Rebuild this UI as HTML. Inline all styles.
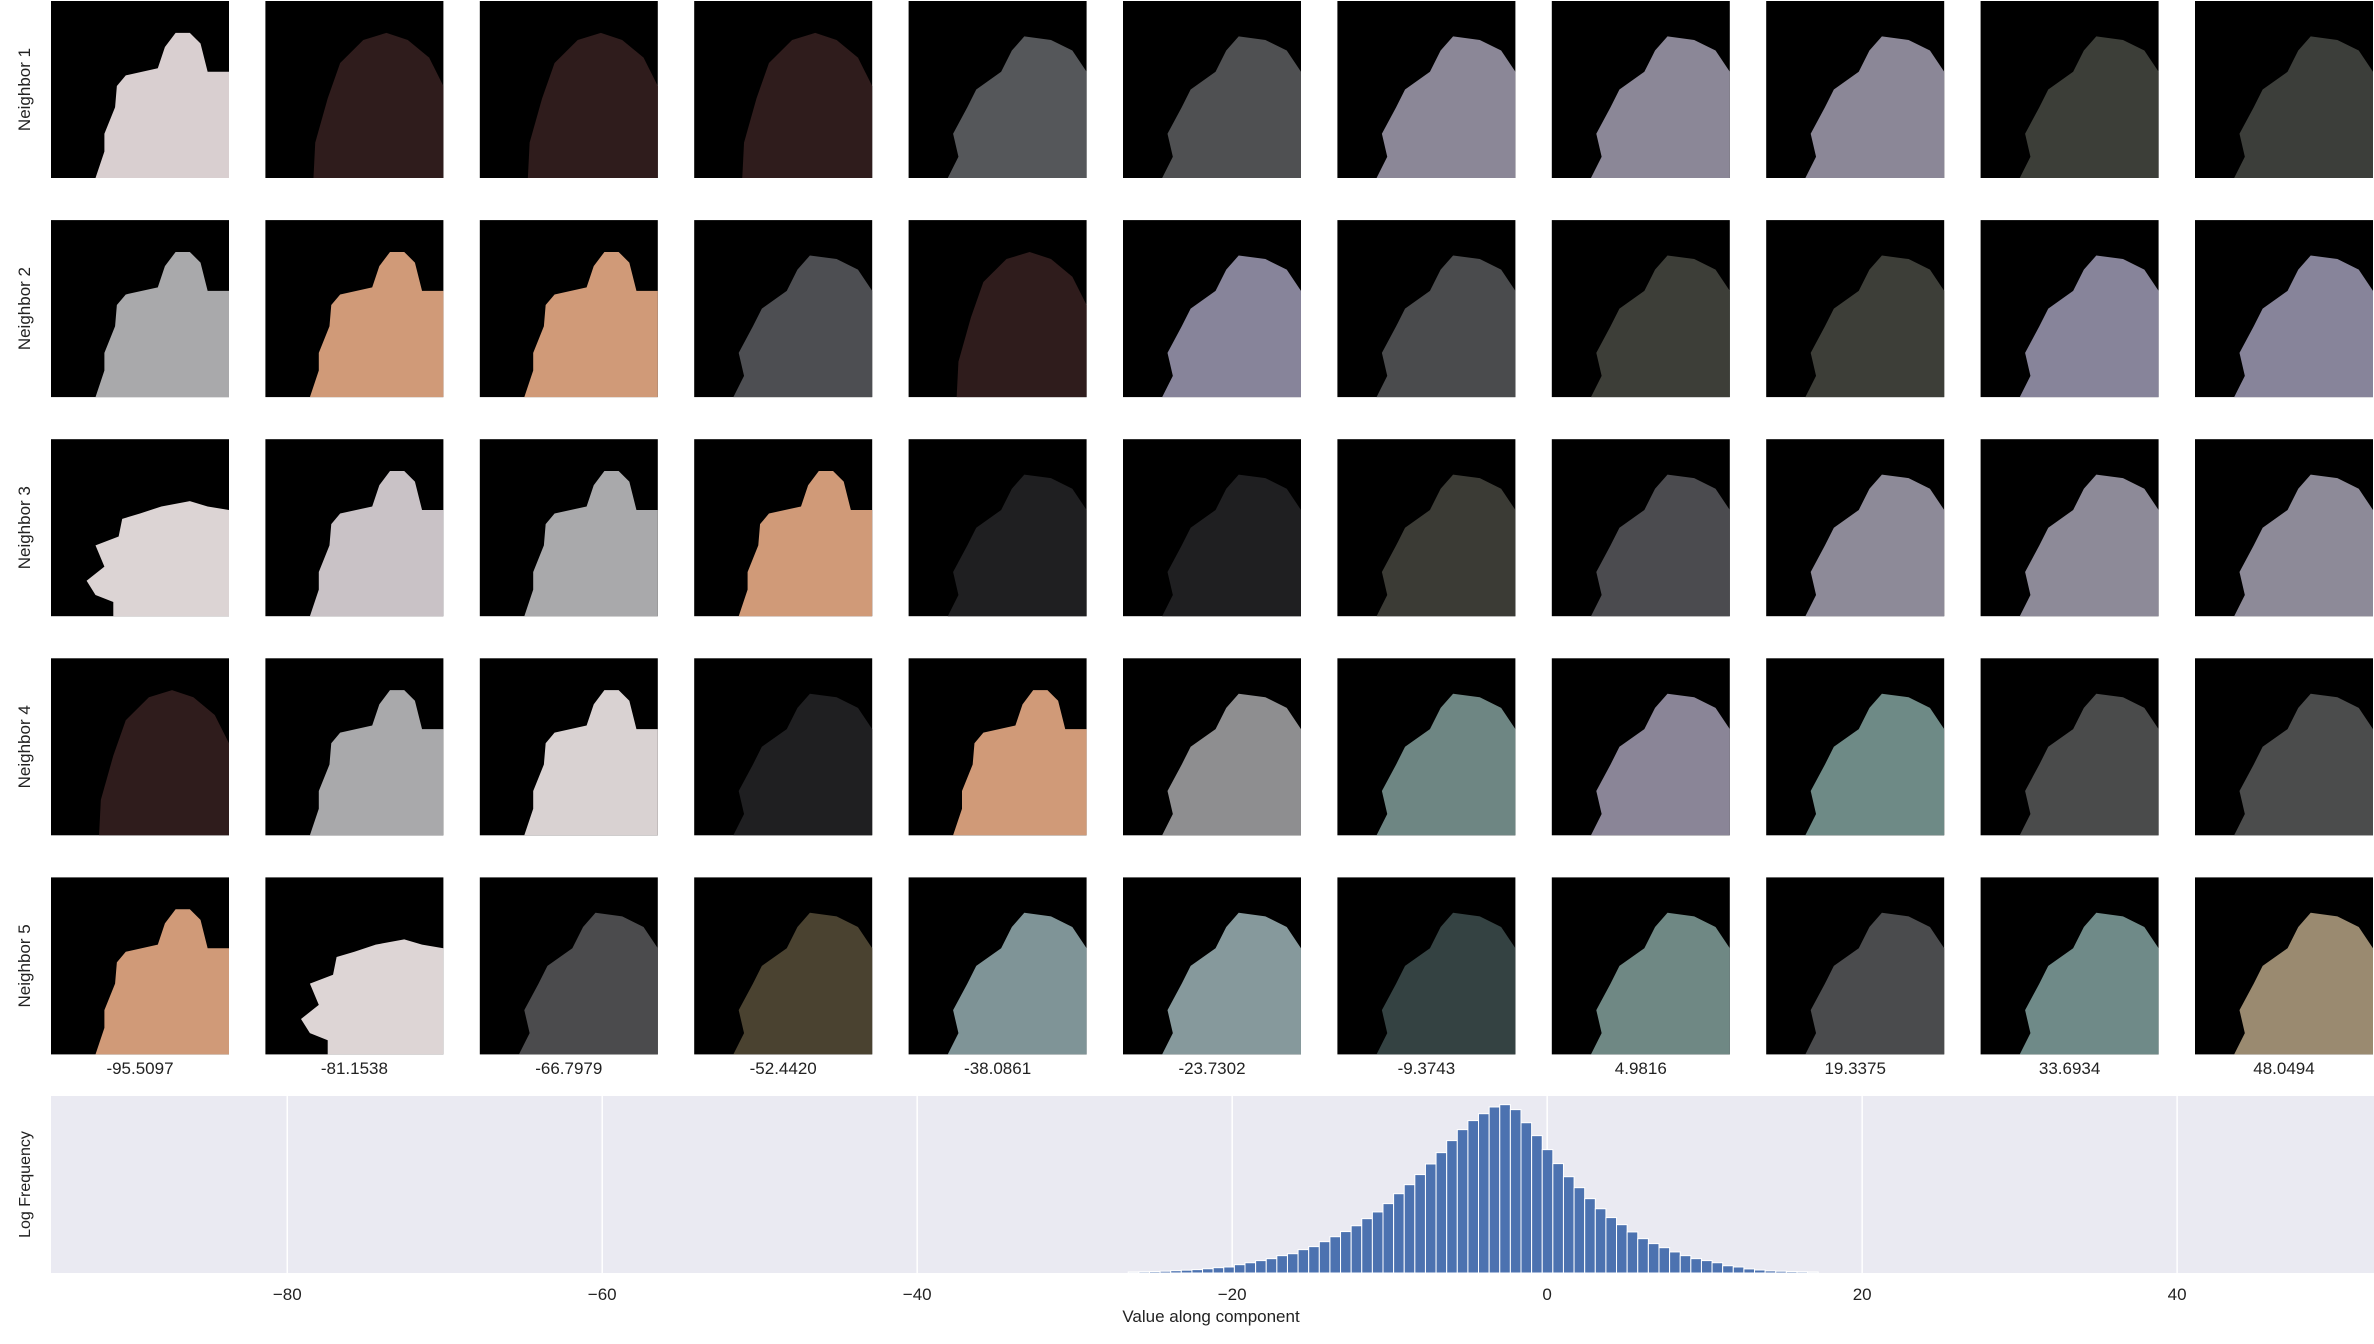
<!DOCTYPE html>
<html><head><meta charset="utf-8">
<style>
html,body{margin:0;padding:0;background:#fff;width:2374px;height:1344px;overflow:hidden;font-family:"Liberation Sans","DejaVu Sans",sans-serif;}
svg{display:block}
</style></head>
<body>
<svg id="fig" width="2374" height="1344" viewBox="0 0 2374 1344" xmlns="http://www.w3.org/2000/svg">
  <g id="grid"></g>
  <g id="hist"></g>
</svg>
<script>
// ---- data ----
const componentValues = ["-95.5097","-81.1538","-66.7979","-52.4420","-38.0861","-23.7302","-9.3743","4.9816","19.3375","33.6934","48.0494"];
const rowLabels = ["Neighbor 1","Neighbor 2","Neighbor 3","Neighbor 4","Neighbor 5"];
const cellShapes = [
 ["tower","dome","dome","dome","wide","wide","wide","wide","wide","wide","wide"],
 ["tower","tower","tower","wide","dome","wide","wide","wide","wide","wide","wide"],
 ["hand","tower","tower","tower","wide","wide","wide","wide","wide","wide","wide"],
 ["dome","tower","tower","wide","tower","wide","wide","wide","wide","wide","wide"],
 ["tower","hand","wide","wide","wide","wide","wide","wide","wide","wide","wide"]
];
const cellColors = [
 ["#d9cfd0","#2f1c1c","#2f1c1c","#2f1c1c","#55575a","#4f5052","#8b8797","#8b8797","#8b8797","#3c3e38","#3c3e3a"],
 ["#a9a9ab","#d09a78","#d09a78","#4d4e52","#2f1c1c","#87849a","#4a4b4d","#3d3e38","#3d3e38","#87849a","#87849a"],
 ["#dcd4d4","#c9c2c6","#a9a9ab","#d09a78","#1f1f21","#1f1f21","#3b3b35","#4b4b4f","#8d8a98","#8d8a98","#8d8a98"],
 ["#2f1c1c","#a9a9ab","#d9d2d2","#1f1f21","#d09a78","#8e8e90","#6e8683","#8a8597","#6e8a86","#4a4b4b","#4b4c4c"],
 ["#d09a78","#ddd5d5","#4b4b4d","#4a4230","#7f9497","#86999c","#344242","#6f8884","#4a4b4d","#6f8a88","#9a8a70"]
];
const binStart = -26.6;
const binWidth = 0.674;
const binHeights = [0.006,0.007,0.008,0.010,0.013,0.016,0.019,0.024,0.030,0.034,0.047,0.058,0.070,0.081,0.098,0.109,0.132,0.149,0.177,0.205,0.234,0.267,0.307,0.345,0.392,0.448,0.499,0.556,0.616,0.680,0.748,0.810,0.861,0.900,0.938,0.951,0.923,0.849,0.776,0.697,0.618,0.544,0.482,0.420,0.363,0.313,0.273,0.232,0.194,0.166,0.143,0.119,0.098,0.081,0.070,0.058,0.041,0.034,0.023,0.017,0.012,0.010,0.008,0.007,0.006];
const xTicks = [-80,-60,-40,-20,0,20,40];
const xTickLabels = ["\u221280","\u221260","\u221240","\u221220","0","20","40"];

// ---- layout ----
const NS = "http://www.w3.org/2000/svg";
function mk(tag, attrs, parent){ const e=document.createElementNS(NS,tag); for(const k in attrs) e.setAttribute(k,attrs[k]); parent.appendChild(e); return e; }
const templates = {
 tower:"M100,40 L88,40 L84,24 L78,18 L70,18 L64,26 L60,38 L42,42 L37,48 L36,60 L30,75 L30,85 L25,100 L100,100Z",
 dome:"M100,48 L92,32 L80,22 L68,18 L55,22 L42,35 L35,55 L28,80 L27,100 L100,100Z",
 wide:"M100,40 L92,28 L80,22 L65,20 L58,28 L52,40 L38,50 L33,60 L25,75 L28,88 L22,100 L100,100Z",
 hand:"M100,40 L88,38 L78,35 L62,38 L50,42 L40,45 L38,55 L25,60 L30,72 L20,80 L25,88 L35,92 L35,100 L100,100Z"
};
const grid = document.getElementById('grid');
const cx0=51, cpitch=214.4, cw=178, rpitch=219.1, ch=177;
for(let r=0;r<rowLabels.length;r++){
  const y = 1 + r*rpitch;
  const lab = mk('text',{x:0,y:0,'font-size':17,fill:'#222','text-anchor':'middle',transform:`translate(30,${y+ch/2}) rotate(-90)`},grid);
  lab.textContent=rowLabels[r];
  
  
  for(let c=0;c<componentValues.length;c++){
    const x = cx0 + c*cpitch;
    const g = mk('g',{transform:`translate(${x},${y})`},grid);
    
    
    mk('rect',{x:0,y:0,width:cw,height:ch,fill:'#000'},g);
    mk('path',{d:templates[cellShapes[r][c]],fill:cellColors[r][c],transform:`scale(${cw/100},${ch/100})`},g);
  }
}
for(let c=0;c<componentValues.length;c++){
  const t = mk('text',{x:cx0+c*cpitch+cw/2,y:1074,'font-size':17,fill:'#222','text-anchor':'middle'},grid);
  t.textContent=componentValues[c];
  
  
}

// histogram
const hist = document.getElementById('hist');
const ax = {left:51,right:2374,top:1096,bottom:1273};
const xmin=-95.0, xmax=52.5;
function sx(v){ return ax.left + (v-xmin)/(xmax-xmin)*(ax.right-ax.left); }
function sy(h){ return ax.bottom - h/1.0*(ax.bottom-ax.top); }
const bg = mk('rect',{x:ax.left,y:ax.top,width:ax.right-ax.left,height:ax.bottom-ax.top,fill:'#eaeaf2'},hist);


for(let i=0;i<xTicks.length;i++){
  const gl = mk('line',{x1:sx(xTicks[i]),x2:sx(xTicks[i]),y1:ax.top,y2:ax.bottom,stroke:'#fff','stroke-width':1.5},hist);
  
  
  const tl = mk('text',{x:sx(xTicks[i]),y:1300,'font-size':17,fill:'#222','text-anchor':'middle'},hist);
  tl.textContent=xTickLabels[i];
  
  
}
for(let i=0;i<binHeights.length;i++){
  const x0=sx(binStart+i*binWidth), x1=sx(binStart+(i+1)*binWidth);
  const b = mk('rect',{x:x0,y:sy(binHeights[i]),width:x1-x0,height:ax.bottom-sy(binHeights[i]),fill:'#4c72b0',stroke:'#fff','stroke-width':1},hist);
  
  
}
const xl = mk('text',{x:1211,y:1322,'font-size':17,fill:'#222','text-anchor':'middle'},hist);
xl.textContent='Value along component';


const yl = mk('text',{x:0,y:0,'font-size':16,fill:'#222','text-anchor':'middle',transform:`translate(30,${(ax.top+ax.bottom)/2}) rotate(-90)`},hist);
yl.textContent='Log Frequency';


</script>
</body></html>
